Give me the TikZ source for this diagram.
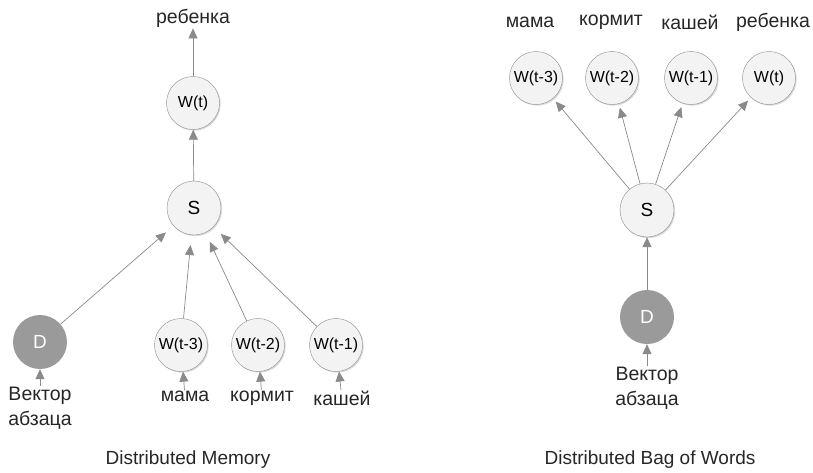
\documentclass[tikz,border=0pt]{standalone}
\usepackage{fontspec}
\setmainfont{Liberation Sans}
\usetikzlibrary{arrows.meta,shadows}

\definecolor{linegray}{HTML}{8A8A8A}
\definecolor{nodefill}{HTML}{F3F3F3}
\definecolor{dfill}{HTML}{9A9A9A}

\begin{document}
\begin{tikzpicture}[x=1pt,y=-1pt]
    \useasboundingbox (0,0) rectangle (813,472);

    \tikzstyle{word}=[font=\fontsize{19.5}{24.5}\selectfont,text=black!85,align=center,inner sep=1pt]
    \tikzstyle{wnode}=[circle,draw=linegray,fill=nodefill,minimum size=53pt,inner sep=0pt,
        font=\fontsize{16}{18}\selectfont,
        drop shadow={shadow xshift=1.2pt,shadow yshift=-1.2pt,opacity=0.15,fill=black}]
    \tikzstyle{snode}=[wnode,minimum size=54pt,font=\fontsize{19}{21}\selectfont]
    \tikzstyle{dnode}=[circle,fill=dfill,minimum size=54pt,inner sep=0pt,text=white,
        font=\fontsize{19}{21}\selectfont]
    \tikzstyle{link}=[draw=linegray,line width=0.7pt,-{Triangle[length=10pt,width=9pt]}]
    \tikzstyle{title}=[font=\fontsize{19}{22}\selectfont,text=black!85]

    %% Distributed Memory
    \node [word] (outL) at (193,18) {ребенка};
    \node [wnode] (wtL) at (193,103) {W(t)};
    \node [snode] (sL) at (194,208) {S};
    \node [dnode] (dL) at (40,342) {D};
    \node [wnode] (w3L) at (181,345) {W(t-3)};
    \node [wnode] (w2L) at (258,345) {W(t-2)};
    \node [wnode] (w1L) at (336,345) {W(t-1)};
    \node [word,anchor=north] (vecL) at (40,386) {Вектор\\абзаца};
    \node [word,anchor=north] (mamaL) at (185,390) {мама};
    \node [word,anchor=north] (kormL) at (262,390) {кормит};
    \node [word,anchor=north] (kashL) at (342,390) {кашей};
    \node [title] (dm) at (188,460) {Distributed Memory};

    \draw [link] (wtL) -- (outL);
    \draw [link] (sL) -- (wtL);
    \draw [link,shorten >=10pt] (dL) -- (sL);
    \draw [link,shorten >=10pt] (w3L) -- (sL);
    \draw [link,shorten >=10pt] (w2L) -- (sL);
    \draw [link,shorten >=10pt] (w1L) -- (sL);
    \draw [link] (vecL) -- (dL);
    \draw [link] (mamaL) -- (w3L);
    \draw [link] (kormL) -- (w2L);
    \draw [link] (kashL) -- (w1L);

    %% Distributed Bag of Words
    \node [word] (mamaR) at (530,22) {мама};
    \node [word] (kormR) at (611,22) {кормит};
    \node [word] (kashR) at (690,22) {кашей};
    \node [word] (outR) at (773,22) {ребенка};
    \node [wnode] (w3R) at (536,78) {W(t-3)};
    \node [wnode] (w2R) at (612,78) {W(t-2)};
    \node [wnode] (w1R) at (691,78) {W(t-1)};
    \node [wnode] (wtR) at (769,78) {W(t)};
    \node [snode] (sR) at (647,210) {S};
    \node [dnode] (dR) at (647,317) {D};
    \node [word,anchor=north] (vecR) at (647,366) {Вектор\\абзаца};
    \node [title] (dbow) at (650,460) {Distributed Bag of Words};

    \draw [link,shorten >=4pt] (sR) -- (w3R);
    \draw [link,shorten >=4pt] (sR) -- (w2R);
    \draw [link,shorten >=4pt] (sR) -- (w1R);
    \draw [link,shorten >=4pt] (sR) -- (wtR);
    \draw [link] (dR) -- (sR);
    \draw [link] (vecR) -- (dR);
\end{tikzpicture}
\end{document}
